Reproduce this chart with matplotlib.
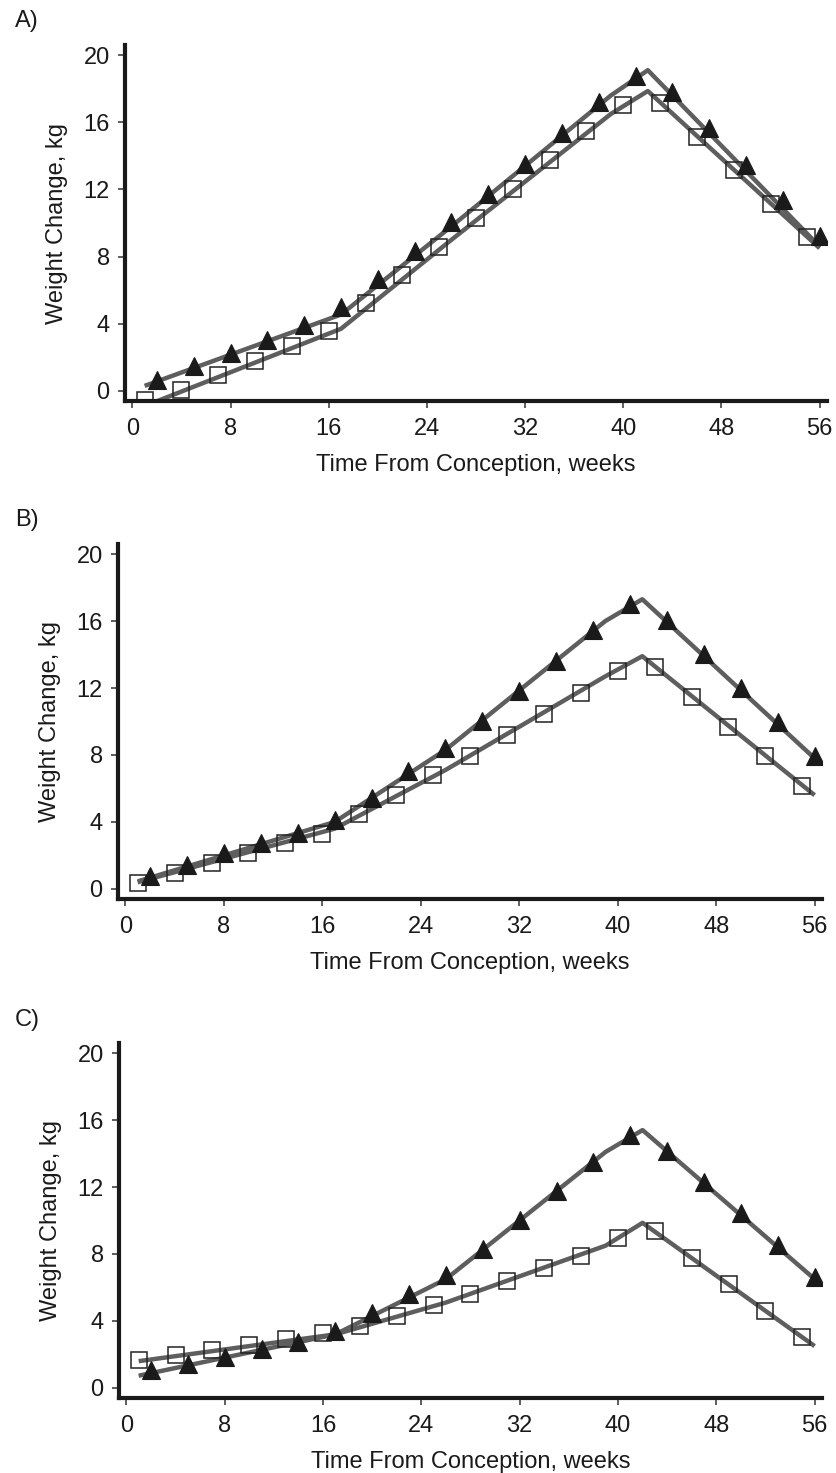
import matplotlib
matplotlib.use("Agg")
import matplotlib.pyplot as plt

plt.rcParams['font.family'] = ['Liberation Sans', 'DejaVu Sans']

# ---------------- data ----------------
weeks_tri = [2, 5, 8, 11, 14, 17, 20, 23, 26, 29, 32, 35, 38, 41, 44, 47, 50, 53, 56]
weeks_sq = [1, 4, 7, 10, 13, 16, 19, 22, 25, 28, 31, 34, 37, 40, 43, 46, 49, 52, 55]
line_weeks = [1, 17, 26, 39, 42, 56]

# Panel A
a_tri = [0.66, 1.46, 2.26, 3.05, 3.95, 5.01, 6.65, 8.32, 10.04, 11.74, 13.53, 15.37,
         17.19, 18.78, 17.83, 15.63, 13.47, 11.34, 9.24]
a_sq = [-0.54, 0.06, 0.92, 1.81, 2.65, 3.55, 5.25, 6.89, 8.60, 10.28, 12.00, 13.77,
        15.47, 17.03, 17.13, 15.13, 13.13, 11.14, 9.14]
a_tri_line = [0.3, 4.55, 9.8, 17.6, 19.1, 8.6]
a_sq_line = [-0.9, 3.7, 9.0, 16.5, 17.86, 8.5]

# Panel B
b_tri = [0.76, 1.46, 2.12, 2.72, 3.32, 4.12, 5.42, 7.02, 8.42, 10.04, 11.84, 13.64,
         15.44, 17.00, 16.08, 14.06, 12.02, 10.00, 7.96]
b_sq = [0.34, 0.96, 1.56, 2.12, 2.72, 3.26, 4.48, 5.60, 6.80, 7.96, 9.22, 10.46,
        11.72, 13.00, 13.26, 11.46, 9.70, 7.92, 6.12]
b_tri_line = [0.45, 4.0, 8.3, 16.0, 17.3, 7.8]
b_sq_line = [0.4, 3.6, 7.1, 12.7, 13.9, 5.6]

# Panel C
c_tri = [1.05, 1.45, 1.87, 2.34, 2.72, 3.41, 4.50, 5.63, 6.74, 8.27, 10.02, 11.74,
         13.49, 15.08, 14.18, 12.30, 10.42, 8.53, 6.64]
c_sq = [1.64, 1.94, 2.28, 2.58, 2.92, 3.27, 3.71, 4.30, 4.96, 5.61, 6.39, 7.14,
        7.89, 8.93, 9.36, 7.77, 6.19, 4.60, 3.04]
c_tri_line = [0.73, 3.2, 6.5, 14.1, 15.4, 6.5]
c_sq_line = [1.6, 3.2, 5.1, 8.5, 9.86, 2.5]

panel_labels = ['A)', 'B)', 'C)']
x_ticks = [0, 8, 16, 24, 32, 40, 48, 56]
y_ticks = [0, 4, 8, 12, 16, 20]
xlabel = 'Time From Conception, weeks'
ylabel = 'Weight Change, kg'

# ---------------- figure ----------------
W, H = 837, 1473
fig = plt.figure(figsize=(W / 100, H / 100), dpi=100)

# axes boxes in pixels: left, top, right, bottom
boxes = [(125, 45, 827, 401), (118, 544, 822, 899), (119, 1043, 822, 1398)]
label_y = [21, 520, 1020]

panels = [
    (a_tri, a_sq, a_tri_line, a_sq_line),
    (b_tri, b_sq, b_tri_line, b_sq_line),
    (c_tri, c_sq, c_tri_line, c_sq_line),
]

line_color = '#5e5e5e'
fs = 17
for i, ((tri, sq, tri_line, sq_line), (l, t, r, b)) in enumerate(zip(panels, boxes)):
    ax = fig.add_axes([l / W, 1 - b / H, (r - l) / W, (b - t) / H])
    ax.plot(line_weeks, tri_line, color=line_color, lw=3.2, zorder=2, solid_capstyle='butt')
    ax.plot(line_weeks, sq_line, color=line_color, lw=3.2, zorder=2, solid_capstyle='butt')
    ax.plot(weeks_sq, sq, linestyle='none', marker='s', markersize=11.5,
            markerfacecolor='none', markeredgecolor='#222222', markeredgewidth=1.1, zorder=3)
    ax.plot(weeks_tri, tri, linestyle='none', marker='^', markersize=12.5,
            markerfacecolor='#1a1a1a', markeredgecolor='#1a1a1a', markeredgewidth=0.8, zorder=4)

    ax.set_xlim(-0.6, 56.6)
    ax.set_ylim(-0.6, 20.6)
    ax.set_xticks(x_ticks)
    ax.set_yticks(y_ticks)
    for s in ['top', 'right']:
        ax.spines[s].set_visible(False)
    for s in ['left', 'bottom']:
        ax.spines[s].set_linewidth(3.0)
        ax.spines[s].set_color('#1a1a1a')
        ax.spines[s].set_zorder(5)
    ax.tick_params(direction='out', length=5, width=1.1, color='#333333',
                   labelsize=fs, labelcolor='#1a1a1a')
    ax.tick_params(axis='x', pad=7)
    ax.tick_params(axis='y', pad=6)
    ax.set_xlabel(xlabel, fontsize=fs, color='#1a1a1a', labelpad=10)
    ax.set_ylabel(ylabel, fontsize=fs, color='#1a1a1a', labelpad=11)
    ax.set_facecolor('none')

    fig.text(15 / W, 1 - label_y[i] / H, panel_labels[i], fontsize=fs,
             color='#1a1a1a', ha='left', va='center')

fig.savefig('out.png', dpi=100)
